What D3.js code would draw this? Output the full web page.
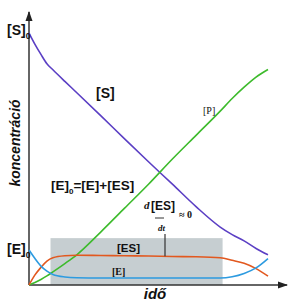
<!DOCTYPE html>
<html lang="hu">
<head>
<meta charset="UTF-8">
<title>Enzimkinetika</title>
<script src="https://d3js.org/d3.v7.min.js"></script>
<style>
  body { margin: 0; background: #fff; }
  text { font-family: "Liberation Sans", Arial, sans-serif; fill: #111; }
  .serif { font-family: "Liberation Serif", "Times New Roman", serif; }
</style>
</head>
<body>
<script>
// time points (arbitrary units) and concentrations
var ido = [0, 2.5, 5, 7.5, 10, 15, 20, 30, 40, 50, 60, 70, 80, 85, 90, 95, 100];
var S   = [100, 95.5, 91.5, 87.8, 85.4, 80.8, 76.3, 67.2, 58, 48.9, 40, 31, 23, 20, 17.5, 14.5, 12];
var P   = [0, 1, 2.2, 3.6, 5.2, 8.5, 12, 21, 30.5, 40, 50, 59.5, 69, 74, 78.5, 82.5, 85.5];
var ES  = [0, 4, 7, 9.5, 10.8, 11.6, 11.8, 11.7, 11.6, 11.5, 11.3, 11.2, 10.8, 9.8, 8.6, 6.5, 3.5];
var E   = [13.9, 10.5, 7.5, 5.5, 4.2, 3.2, 2.9, 2.8, 2.8, 2.8, 2.8, 2.8, 2.8, 3.3, 4.6, 6.8, 10.5];
var S0 = 100, E0 = 13.9;
var shade = [9, 81, 18.6];   // steady-state range: start, end, top

var width = 296, height = 308;
var svg = d3.select("body").append("svg").attr("width", width).attr("height", height);

var x = d3.scaleLinear().domain([0, 100]).range([29, 268]);
var y = d3.scaleLinear().domain([0, 100]).range([285, 33]);

// grey box of the steady state
svg.append("rect")
  .attr("x", x(shade[0])).attr("y", y(shade[2]))
  .attr("width", x(shade[1]) - x(shade[0]))
  .attr("height", y(0) - y(shade[2]))
  .attr("fill", "#c6ced1");

var defs = svg.append("defs");
defs.append("marker").attr("id", "arr").attr("viewBox", "0 0 10 10")
  .attr("refX", 9).attr("refY", 5).attr("markerWidth", 7).attr("markerHeight", 7)
  .attr("orient", "auto")
  .append("path").attr("d", "M0,1.5L10,5L0,8.5Z").attr("fill", "#222");

// axes
svg.append("line").attr("x1", x(0)).attr("y1", y(0)).attr("x2", x(0)).attr("y2", 12)
  .attr("stroke", "#333").attr("stroke-width", 1.5).attr("marker-end", "url(#arr)");
svg.append("line").attr("x1", x(0)).attr("y1", y(0)).attr("x2", 287).attr("y2", y(0))
  .attr("stroke", "#333").attr("stroke-width", 1.5).attr("marker-end", "url(#arr)");

var line = d3.line().curve(d3.curveMonotoneX)
  .x(function(d, i) { return x(ido[i]); })
  .y(function(d) { return y(d); });

var series = [[S, "#5b3fc4"], [P, "#3dbb2c"], [ES, "#e2581f"], [E, "#2d9be0"]];
series.forEach(function(s) {
  svg.append("path").attr("d", line(s[0])).attr("fill", "none")
    .attr("stroke", s[1]).attr("stroke-width", 1.6);
});

// pointer line to ES plateau
svg.append("line").attr("x1", 165).attr("x2", 165).attr("y1", 234).attr("y2", y(11.4))
  .attr("stroke", "#333").attr("stroke-width", 1.2);

function label(tx, ty, main, sub, size) {
  var t = svg.append("text").attr("x", tx).attr("y", ty)
    .attr("font-size", size).attr("font-weight", "bold");
  t.append("tspan").text(main);
  if (sub) t.append("tspan").attr("dy", 4).attr("font-size", size * 0.6).text(sub);
  return t;
}

label(7, y(S0) + 2, "[S]", "0", 14);
label(7, y(E0) + 4, "[E]", "0", 14);
label(96, 98, "[S]", null, 14);
svg.append("text").attr("class", "serif").attr("x", 203).attr("y", 114)
  .attr("font-size", 10).text("[P]");

var eq = svg.append("text").attr("x", 51).attr("y", 190).attr("font-size", 13.5)
  .attr("font-weight", "bold");
eq.append("tspan").text("[E]");
eq.append("tspan").attr("dy", 4).attr("font-size", 8).text("0");
eq.append("tspan").attr("dy", -4).text("=[E]+[ES]");

// d[ES]/dt ≈ 0
svg.append("text").attr("class", "serif").attr("x", 144).attr("y", 209)
  .attr("font-size", 11).attr("font-style", "italic").attr("font-weight", "bold").text("d");
svg.append("text").attr("x", 151).attr("y", 210).attr("font-size", 12)
  .attr("font-weight", "bold").text("[ES]");
svg.append("line").attr("x1", 155).attr("x2", 164).attr("y1", 218).attr("y2", 218)
  .attr("stroke", "#333").attr("stroke-width", 1);
svg.append("text").attr("class", "serif").attr("x", 158).attr("y", 231)
  .attr("font-size", 9).attr("font-style", "italic").attr("font-weight", "bold").text("dt");
svg.append("text").attr("class", "serif").attr("x", 179).attr("y", 218)
  .attr("font-size", 10).attr("font-weight", "bold").text("\u2248 0");

svg.append("text").attr("x", 117).attr("y", 252).attr("font-size", 11.5)
  .attr("font-weight", "bold").text("[ES]");
svg.append("text").attr("class", "serif").attr("x", 112).attr("y", 275)
  .attr("font-size", 10).attr("font-weight", "bold").text("[E]");

// axis titles
svg.append("text").attr("transform", "translate(20,143) rotate(-90)")
  .attr("text-anchor", "middle").attr("font-size", 14).attr("font-weight", "bold")
  .attr("font-style", "italic").text("koncentráció");
svg.append("text").attr("x", 155).attr("y", 299).attr("text-anchor", "middle")
  .attr("font-size", 15).attr("font-weight", "bold").attr("font-style", "italic").text("idő");
</script>
</body>
</html>
